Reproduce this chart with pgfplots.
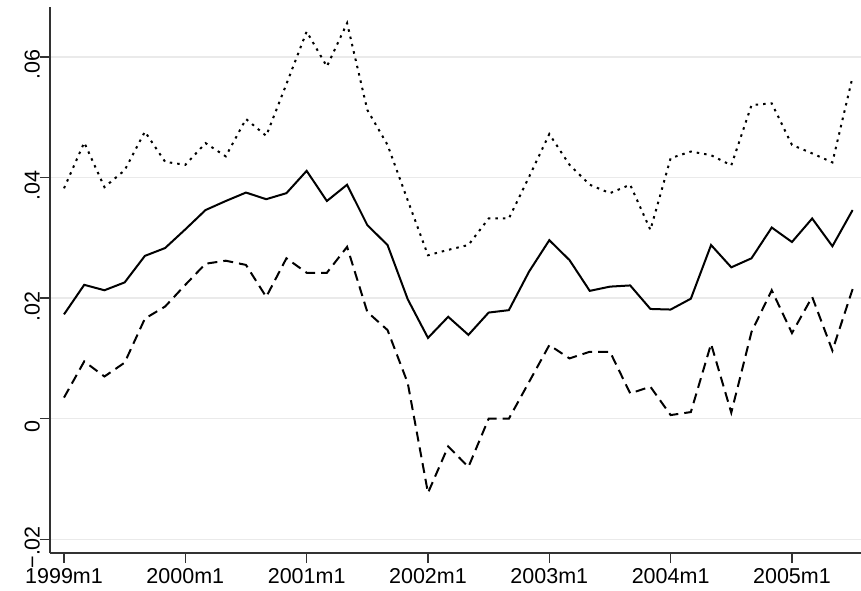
\documentclass[border=0pt]{standalone}
\usepackage{pgfplots}
\usepackage{pgfplotstable}
\pgfplotsset{compat=1.18}
\usepackage{fontspec}
\setmainfont{Liberation Sans}
\definecolor{gridc}{RGB}{234,234,234}
\definecolor{axc}{RGB}{50,50,50}
\pgfplotstableread{
m hi mid lo
0 .0382 .0173 .0035
2 .0458 .0222 .0095
4 .0384 .0213 .0070
6 .0412 .0226 .0093
8 .0476 .0270 .0166
10 .0426 .0283 .0186
12 .0421 .0314 .0222
14 .0457 .0346 .0257
16 .0435 .0361 .0262
18 .0497 .0375 .0255
20 .0469 .0364 .0202
22 .0555 .0374 .0266
24 .0642 .0411 .0242
26 .0584 .0361 .0242
28 .0656 .0388 .0285
30 .0512 .0321 .0177
32 .0454 .0288 .0147
34 .0362 .0198 .0059
36 .0271 .0134 -.0123
38 .0280 .0169 -.0046
40 .0288 .0139 -.0080
42 .0332 .0176 .0000
44 .0332 .0180 .0000
46 .0401 .0244 .0061
48 .0472 .0296 .0122
50 .0421 .0263 .0100
52 .0388 .0212 .0111
54 .0374 .0219 .0111
56 .0388 .0221 .0042
58 .0313 .0182 .0053
60 .0432 .0181 .0006
62 .0443 .0199 .0011
64 .0437 .0288 .0124
66 .0420 .0251 .0010
68 .0520 .0266 .0144
70 .0523 .0317 .0213
72 .0454 .0293 .0142
74 .0440 .0332 .0202
76 .0425 .0286 .0113
78 .0567 .0346 .0215
}\datatable
\begin{document}
\begin{tikzpicture}
\begin{axis}[
  scale only axis, width=811pt, height=546pt,
  xmin=-1.385, xmax=78.83, ymin=-0.02227, ymax=0.06827,
  axis x line*=bottom, axis y line*=left,
  axis line style={-, line width=1.3pt, color=axc},
  xtick={0,12,24,36,48,60,72},
  xticklabels={1999m1,2000m1,2001m1,2002m1,2003m1,2004m1,2005m1},
  ytick={-0.02,0,0.02,0.04,0.06},
  yticklabels={−.02,0,.02,.04,.06},
  scaled y ticks=false,
  tick align=outside, major tick length=10pt,
  tick style={line width=1.3pt, color=axc},
  ymajorgrids, grid style={line width=1.5pt, color=gridc},
  /pgf/number format/assume math mode=true,
  tick label style={font=\fontsize{21.5}{24}\selectfont},
  yticklabel style={rotate=90, anchor=south, inner sep=0pt, xshift=-8pt},
  xticklabel style={anchor=north, inner sep=0pt, yshift=-5pt},
]
\addplot[black, line width=2pt, dash pattern=on 2.5pt off 5pt] table[x=m, y=hi] {\datatable};
\addplot[black, line width=2pt] table[x=m, y=mid] {\datatable};
\addplot[black, line width=2pt, dash pattern=on 10pt off 6pt] table[x=m, y=lo] {\datatable};
\end{axis}
\pgfresetboundingbox
\path (current axis.south west) ++(-50pt,-37pt) rectangle ++(861pt,590pt);
\end{tikzpicture}
\end{document}
